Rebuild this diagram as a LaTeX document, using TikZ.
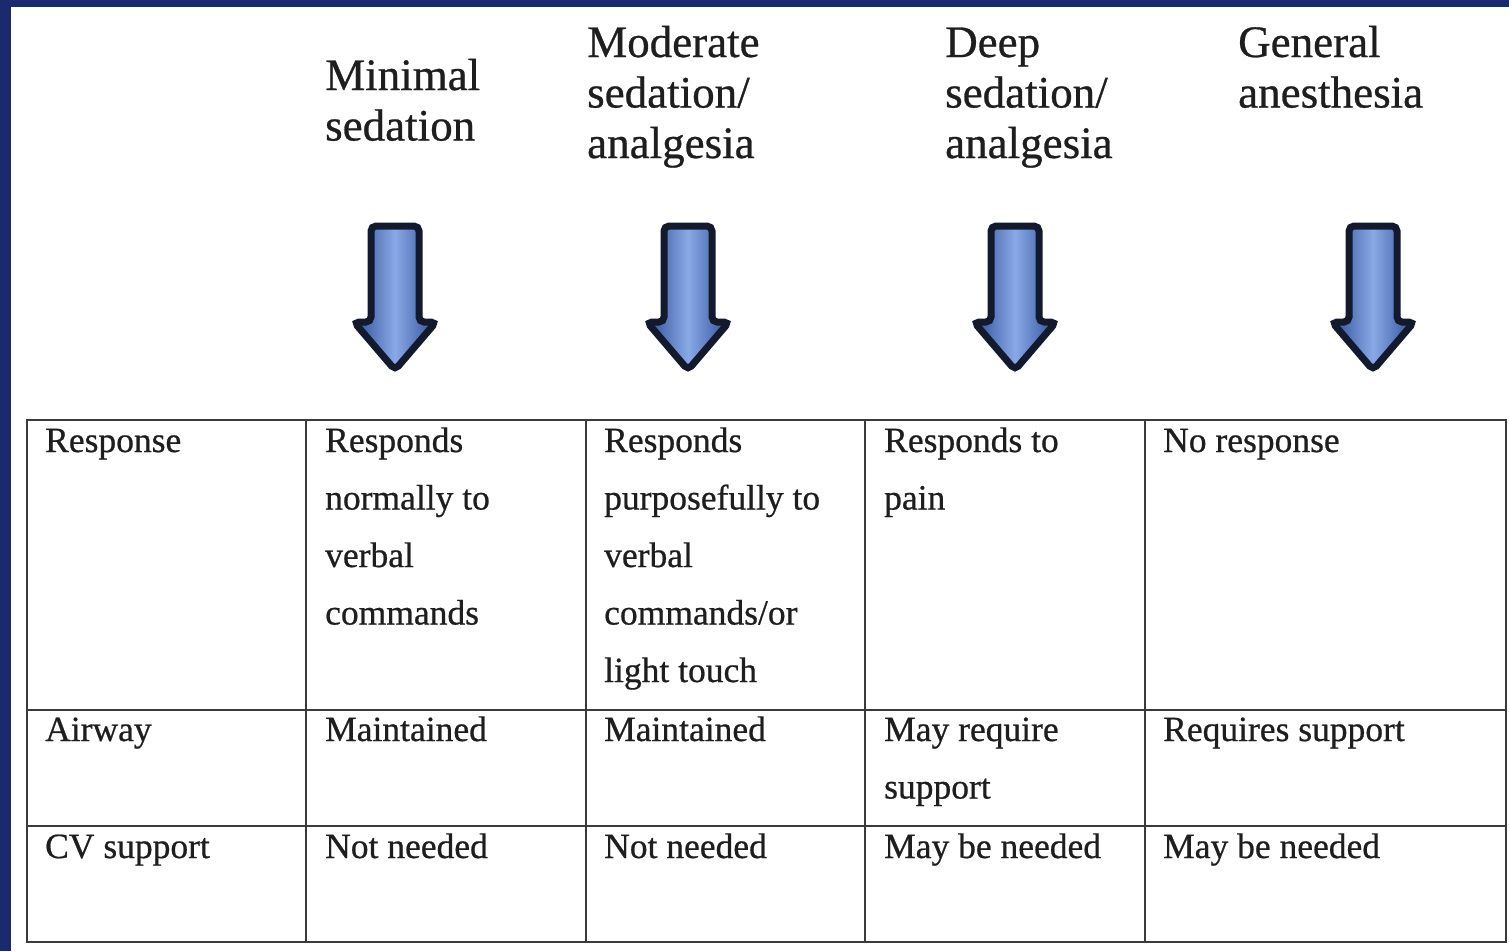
\documentclass[tikz,border=0pt]{standalone}
\usepackage{fontspec}
\setmainfont{Liberation Serif}[FakeBold=0.6]
\definecolor{framebg}{HTML}{1B2A6C}
\definecolor{txt}{HTML}{1E1E1E}
\definecolor{rule}{HTML}{3A3A3A}
\definecolor{arrowline}{HTML}{131A2E}
\definecolor{arrowlight}{HTML}{88A8E6}
\definecolor{arrowdark}{HTML}{30509A}
\tikzset{
  head/.style={anchor=base west, inner sep=0pt, align=left, text=txt,
    font=\fontsize{45}{50.5}\selectfont},
  cell/.style={anchor=base west, inner sep=0pt, align=left, text=txt,
    font=\fontsize{35.5}{57.5}\selectfont},
  grid/.style={draw=rule, line width=2.5pt},
  downarrow/.style={draw=arrowline, line width=7pt, rounded corners=5pt,
    left color=arrowdark, right color=arrowdark, middle color=arrowlight}
}
\newcommand{\downarr}[1]{%
  \path[downarrow] (#1-24,226) -- (#1+24,226) -- (#1+24,322) -- (#1+41,322)
    -- (#1,370) -- (#1-41,322) -- (#1-24,322) -- cycle;}
\begin{document}
\begin{tikzpicture}[x=1pt,y=-1pt]
\useasboundingbox (0,0) rectangle (1509,951);
\fill[framebg] (0,0) rectangle (1509,951);
\fill[white] (11,7) rectangle (1509,951);
% headers (anchored at the baseline of the last line)
\node[head] (h1) at (325,140.5) {Minimal\\sedation};
\node[head] (h2) at (587,158) {Moderate\\sedation/\\analgesia};
\node[head] (h3) at (945,158) {Deep\\sedation/\\analgesia};
\node[head] (h4) at (1238,107.5) {General\\anesthesia};
% arrows
\downarr{395}
\downarr{688}
\downarr{1015}
\downarr{1373}
% table grid
\draw[grid] (27,420) rectangle (1506,942);
\draw[grid] (27,710) -- (1506,710);
\draw[grid] (27,826) -- (1506,826);
\foreach \x in {306,586,865,1145} \draw[grid] (\x,420) -- (\x,942);
% row 1
\node[cell] (r1c0) at (45,452) {Response};
\node[cell] (r1c1) at (325,624.5) {Responds\\normally to\\verbal\\commands};
\node[cell] (r1c2) at (604,682) {Responds\\purposefully to\\verbal\\commands/or\\light touch};
\node[cell] (r1c3) at (884,509.5) {Responds to\\pain};
\node[cell] (r1c4) at (1163,452) {No response};
% row 2
\node[cell] (r2c0) at (45,741) {Airway};
\node[cell] (r2c1) at (325,741) {Maintained};
\node[cell] (r2c2) at (604,741) {Maintained};
\node[cell] (r2c3) at (884,798.5) {May require\\support};
\node[cell] (r2c4) at (1163,741) {Requires support};
% row 3
\node[cell] (r3c0) at (45,858) {CV support};
\node[cell] (r3c1) at (325,858) {Not needed};
\node[cell] (r3c2) at (604,858) {Not needed};
\node[cell] (r3c3) at (884,858) {May be needed};
\node[cell] (r3c4) at (1163,858) {May be needed};
\end{tikzpicture}
\end{document}
